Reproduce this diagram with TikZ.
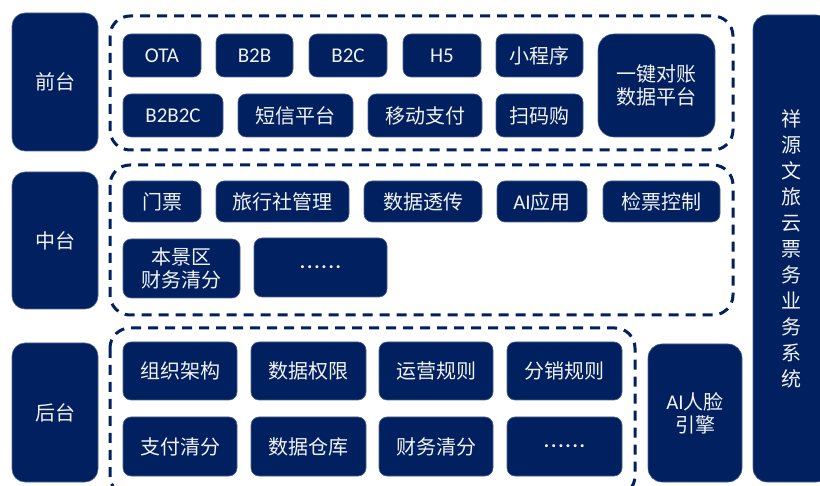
\documentclass[tikz,border=0pt]{standalone}
\usepackage{fontspec}
\setmainfont{Noto Sans CJK SC}
\newfontfamily\latfont{Carlito}
\definecolor{navy}{RGB}{0,32,96}
\definecolor{txt}{RGB}{242,242,242}
\newcommand{\lat}[1]{{\latfont\fontsize{21}{23}\selectfont #1}}
\newcommand{\sixdots}{{\latfont\bfseries .\kern1.8pt.\kern1.8pt.\kern1.8pt.\kern1.8pt.\kern1.8pt.}}
\tikzset{
  box/.style={fill=navy, draw=navy!70!white, line width=0.6pt, rounded corners=8pt, text=txt, align=center, inner sep=0pt, font=\fontsize{20}{23}\selectfont},
  side/.style={box, rounded corners=13pt},
  dashbox/.style={draw=navy, line width=3pt, dash pattern=on 10pt off 7pt, rounded corners=20pt},
}
\begin{document}
\begin{tikzpicture}[x=1pt,y=-1pt]
\useasboundingbox (0,0) rectangle (820,486);
\clip (0,0) rectangle (820,486);
% dashed groups
\draw[dashbox] (110,16) rectangle (733,150);
\draw[dashbox] (110,165) rectangle (733,315);
\draw[dashbox] (110,328) rectangle (635,496);
% left labels
\node[side, minimum width=86pt, minimum height=138pt] (qt) at (55,82) {前台};
\node[side, minimum width=86pt, minimum height=137pt] (zt) at (55,240.5) {中台};
\node[side, minimum width=86pt, minimum height=139pt] (ht) at (55,412.5) {后台};
% front row 1
\node[box, minimum width=78pt, minimum height=43pt] (ota) at (162,55.5) {\lat{OTA}};
\node[box, minimum width=77pt, minimum height=43pt] (b2b) at (254.5,55.5) {\lat{B2B}};
\node[box, minimum width=78pt, minimum height=43pt] (b2c) at (348,55.5) {\lat{B2C}};
\node[box, minimum width=78pt, minimum height=43pt] (h5) at (442,55.5) {\lat{H5}};
\node[box, minimum width=87pt, minimum height=43pt] (xcx) at (539.5,55.5) {小程序};
\node[box, rounded corners=16pt, minimum width=117pt, minimum height=103pt] (yjdz) at (656.5,85.5) {一键对账\\数据平台};
% front row 2
\node[box, minimum width=100pt, minimum height=43pt] (b2b2c) at (173,115.5) {\lat{B2B2C}};
\node[box, minimum width=115pt, minimum height=43pt] (dx) at (295.5,115.5) {短信平台};
\node[box, minimum width=114pt, minimum height=43pt] (yd) at (425,115.5) {移动支付};
\node[box, minimum width=87pt, minimum height=43pt] (smg) at (539.5,115.5) {扫码购};
% middle
\node[box, minimum width=78pt, minimum height=41pt] (mp) at (162,201.5) {门票};
\node[box, minimum width=133pt, minimum height=41pt] (lxs) at (282.5,201.5) {旅行社管理};
\node[box, minimum width=118pt, minimum height=41pt] (sjtc) at (423,201.5) {数据透传};
\node[box, minimum width=90pt, minimum height=41pt] (ai) at (542,201.5) {\lat{AI}应用};
\node[box, minimum width=117pt, minimum height=41pt] (jp) at (661.5,201.5) {检票控制};
\node[box, minimum width=117pt, minimum height=59pt] (bjq) at (181.5,268.5) {本景区\\财务清分};
\node[box, minimum width=133pt, minimum height=59pt] (dots1) at (320.5,267.5) {\sixdots};
% back
\node[box, minimum width=114pt, minimum height=58pt] (zz) at (180,371) {组织架构};
\node[box, minimum width=115pt, minimum height=58pt] (qx) at (308.5,371) {数据权限};
\node[box, minimum width=114pt, minimum height=58pt] (yy) at (436,371) {运营规则};
\node[box, minimum width=115pt, minimum height=58pt] (fx) at (564.5,371) {分销规则};
\node[box, minimum width=114pt, minimum height=59pt] (zf) at (180,446.5) {支付清分};
\node[box, minimum width=115pt, minimum height=59pt] (ck) at (308.5,446.5) {数据仓库};
\node[box, minimum width=114pt, minimum height=59pt] (cw) at (436,446.5) {财务清分};
\node[box, minimum width=115pt, minimum height=59pt] (dots2) at (564.5,446.5) {\sixdots};
% AI face engine
\node[box, rounded corners=14pt, minimum width=94pt, minimum height=138pt] (face) at (695,413) {\lat{AI}人脸\\引擎};
% right column
\node[box, rounded corners=14pt, minimum width=77pt, minimum height=467pt, font=\fontsize{20}{26}\selectfont] (sys) at (791.5,248.5) {祥\\源\\文\\旅\\云\\票\\务\\业\\务\\系\\统};
\end{tikzpicture}
\end{document}
